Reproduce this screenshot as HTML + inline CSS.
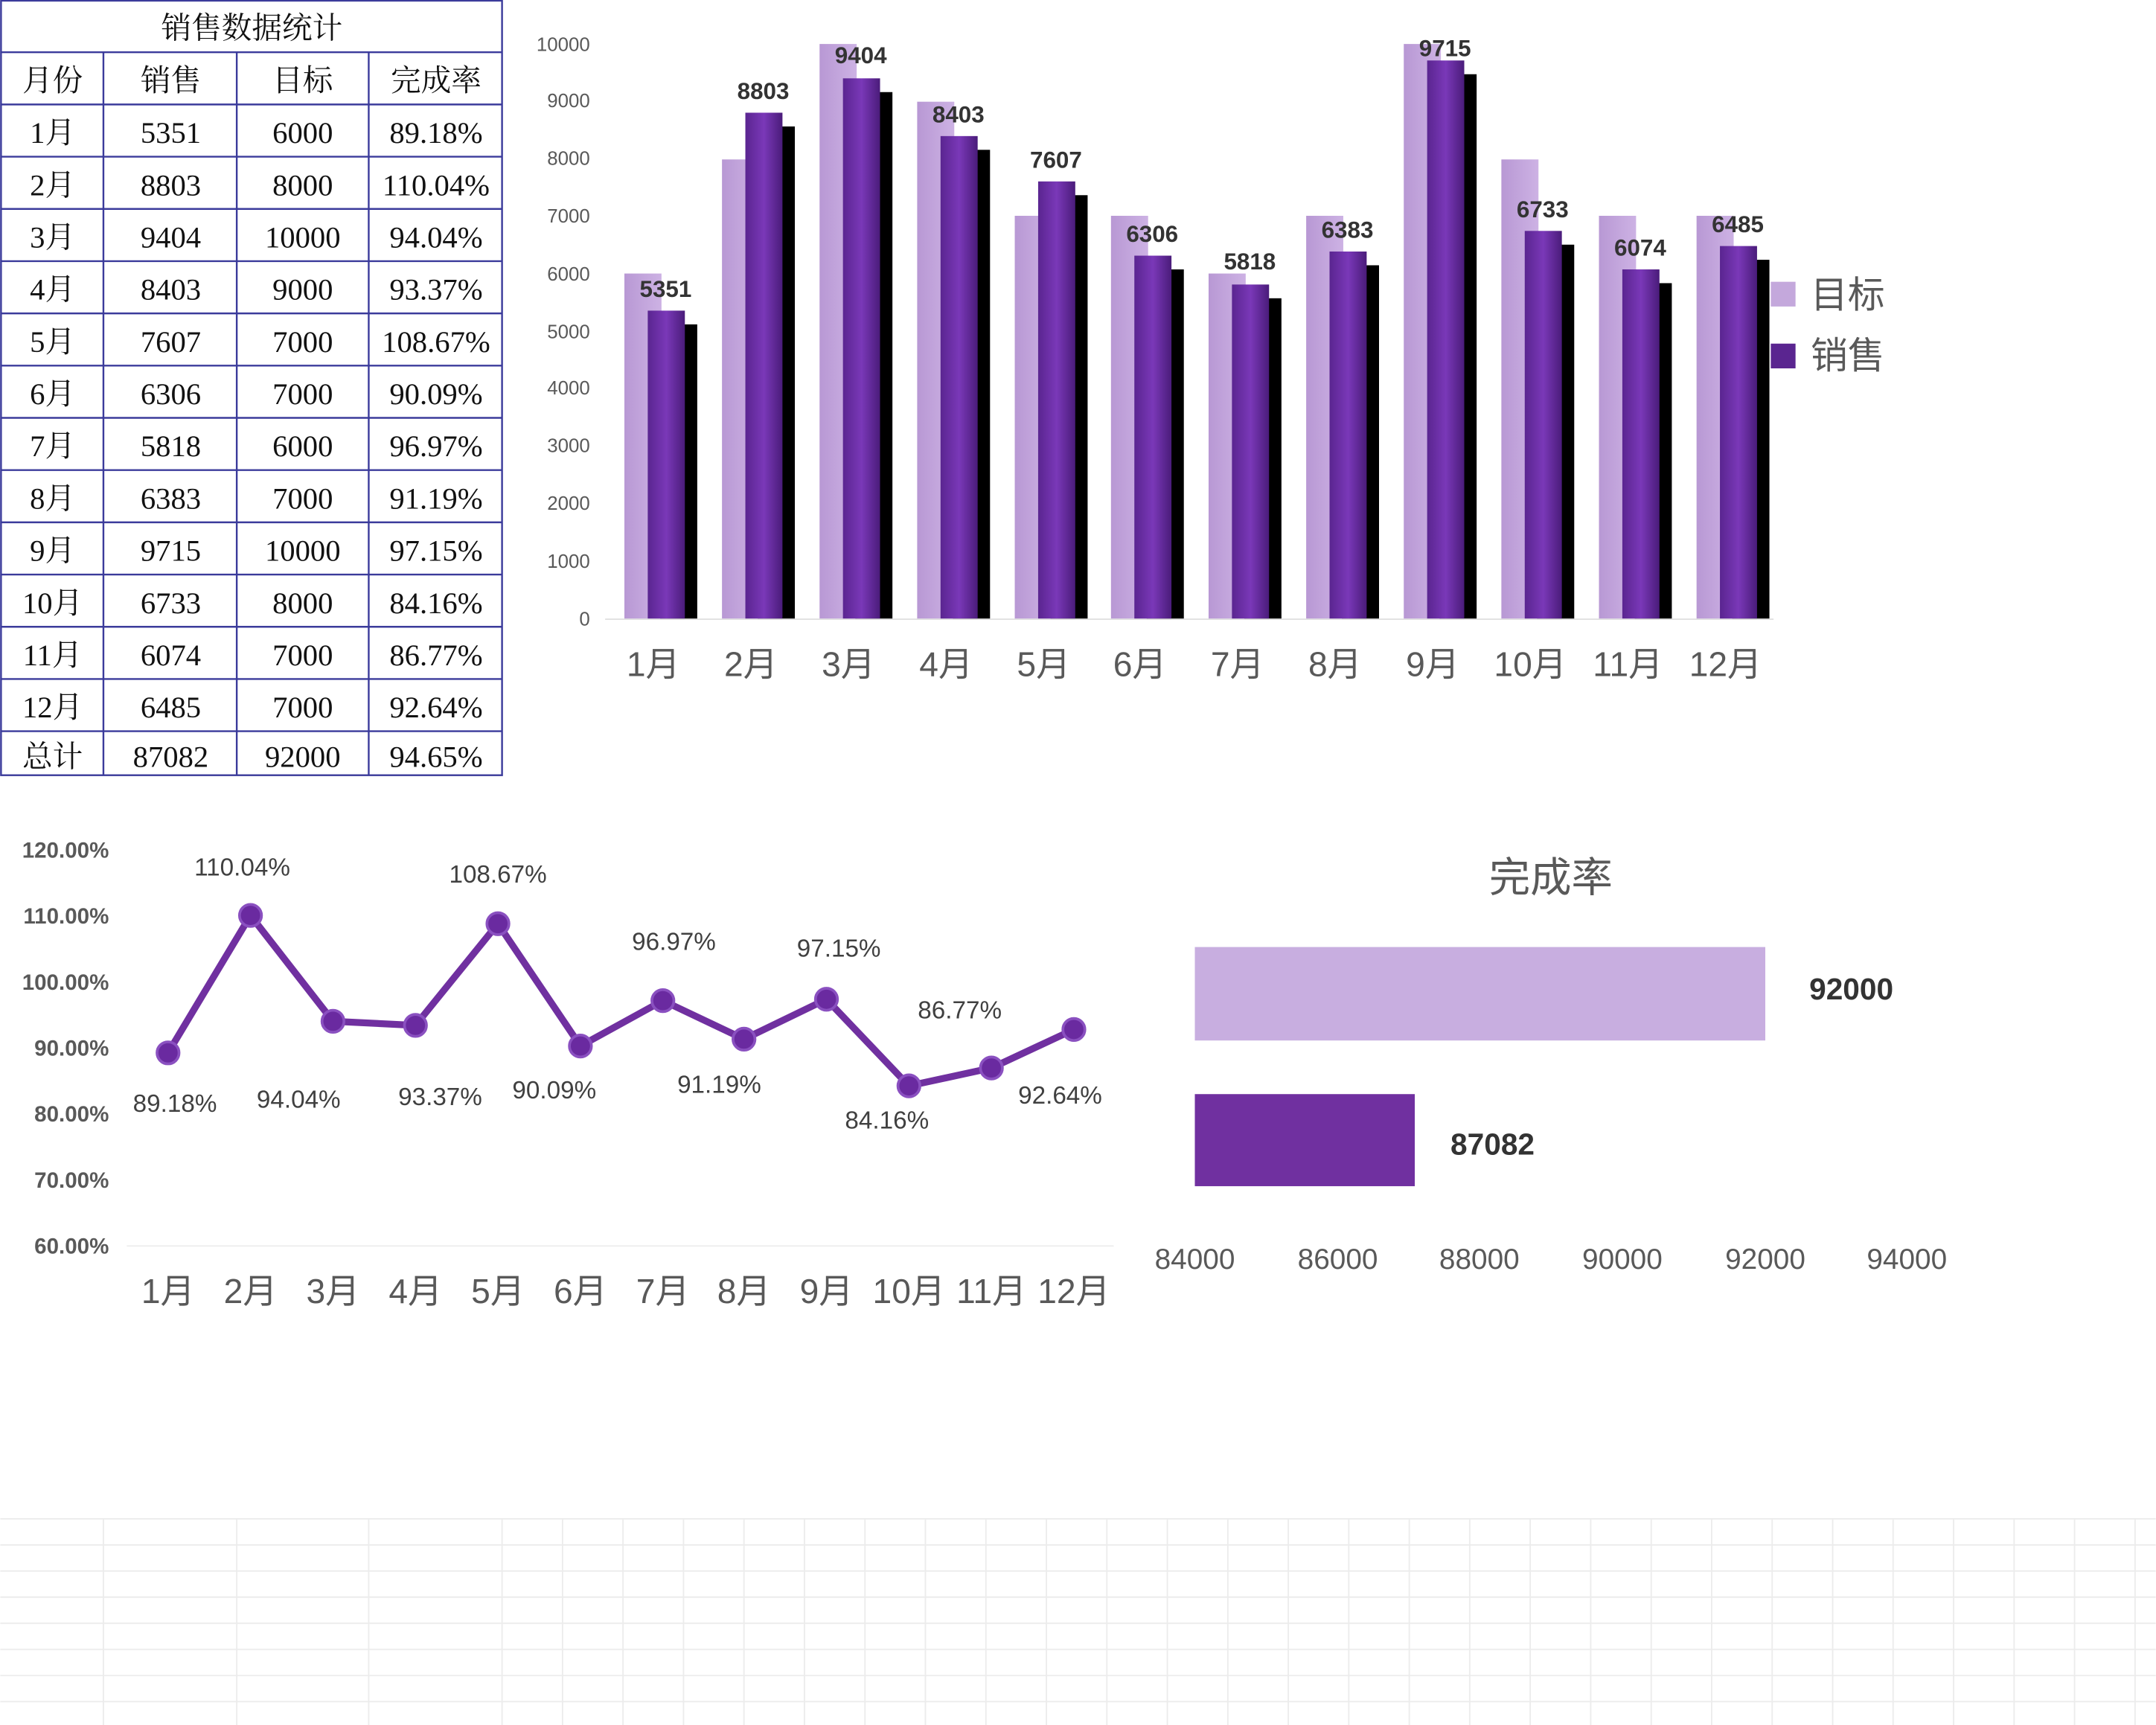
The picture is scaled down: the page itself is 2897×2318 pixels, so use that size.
<!DOCTYPE html>
<html><head><meta charset="utf-8"><style>html,body{margin:0;padding:0;background:#fff}svg{display:block}</style></head>
<body>
<svg width="2897" height="2318" viewBox="0 0 1568 1255" xmlns="http://www.w3.org/2000/svg" font-family="'Liberation Sans','Noto Sans CJK SC',sans-serif">
<defs>
<linearGradient id="sg" x1="0" x2="1" y1="0" y2="0"><stop offset="0" stop-color="#5a2590"/><stop offset="0.5" stop-color="#7a38b8"/><stop offset="1" stop-color="#4a1c7a"/></linearGradient>
<linearGradient id="tg" x1="0" x2="1"><stop offset="0" stop-color="#b898d4"/><stop offset="1" stop-color="#cdb2e4"/></linearGradient>
</defs>
<!-- faint grid bottom -->
<g stroke="#ececec" stroke-width="1">
<line x1="0" y1="1105" x2="1568" y2="1105"/><line x1="0" y1="1124" x2="1568" y2="1124"/><line x1="0" y1="1143" x2="1568" y2="1143"/><line x1="0" y1="1162" x2="1568" y2="1162"/><line x1="0" y1="1181" x2="1568" y2="1181"/><line x1="0" y1="1200" x2="1568" y2="1200"/><line x1="0" y1="1219" x2="1568" y2="1219"/><line x1="0" y1="1238" x2="1568" y2="1238"/>
<line x1="75" y1="1105" x2="75" y2="1255"/><line x1="172" y1="1105" x2="172" y2="1255"/><line x1="268" y1="1105" x2="268" y2="1255"/><line x1="365" y1="1105" x2="365" y2="1255"/>
<line x1="409" y1="1105" x2="409" y2="1255"/><line x1="453" y1="1105" x2="453" y2="1255"/><line x1="497" y1="1105" x2="497" y2="1255"/><line x1="541" y1="1105" x2="541" y2="1255"/><line x1="585" y1="1105" x2="585" y2="1255"/><line x1="629" y1="1105" x2="629" y2="1255"/><line x1="673" y1="1105" x2="673" y2="1255"/><line x1="717" y1="1105" x2="717" y2="1255"/><line x1="761" y1="1105" x2="761" y2="1255"/><line x1="805" y1="1105" x2="805" y2="1255"/><line x1="849" y1="1105" x2="849" y2="1255"/><line x1="893" y1="1105" x2="893" y2="1255"/><line x1="937" y1="1105" x2="937" y2="1255"/><line x1="981" y1="1105" x2="981" y2="1255"/><line x1="1025" y1="1105" x2="1025" y2="1255"/><line x1="1069" y1="1105" x2="1069" y2="1255"/><line x1="1113" y1="1105" x2="1113" y2="1255"/><line x1="1157" y1="1105" x2="1157" y2="1255"/><line x1="1201" y1="1105" x2="1201" y2="1255"/><line x1="1245" y1="1105" x2="1245" y2="1255"/><line x1="1289" y1="1105" x2="1289" y2="1255"/><line x1="1333" y1="1105" x2="1333" y2="1255"/><line x1="1377" y1="1105" x2="1377" y2="1255"/><line x1="1421" y1="1105" x2="1421" y2="1255"/><line x1="1465" y1="1105" x2="1465" y2="1255"/><line x1="1509" y1="1105" x2="1509" y2="1255"/><line x1="1553" y1="1105" x2="1553" y2="1255"/>
</g>
<!-- table -->
<g stroke="#3b3b9b" stroke-width="1.3" fill="none">
<rect x="0.5" y="0.5" width="364.5" height="563.5"/>
<line x1="0" y1="38" x2="365" y2="38"/>
<line x1="0" y1="76" x2="365" y2="76"/><line x1="0" y1="114" x2="365" y2="114"/><line x1="0" y1="152" x2="365" y2="152"/><line x1="0" y1="190" x2="365" y2="190"/><line x1="0" y1="228" x2="365" y2="228"/><line x1="0" y1="266" x2="365" y2="266"/><line x1="0" y1="304" x2="365" y2="304"/><line x1="0" y1="342" x2="365" y2="342"/><line x1="0" y1="380" x2="365" y2="380"/><line x1="0" y1="418" x2="365" y2="418"/><line x1="0" y1="456" x2="365" y2="456"/><line x1="0" y1="494" x2="365" y2="494"/><line x1="0" y1="532" x2="365" y2="532"/>
<line x1="75" y1="38" x2="75" y2="564"/><line x1="172" y1="38" x2="172" y2="564"/><line x1="268" y1="38" x2="268" y2="564"/>
</g>
<g font-family="'Liberation Serif','Noto Serif CJK SC',serif" font-size="22" fill="#111" text-anchor="middle">
<text x="183" y="28">销售数据统计</text>
<text x="38" y="66">月份</text><text x="124" y="66">销售</text><text x="220" y="66">目标</text><text x="317" y="66">完成率</text>
<text x="38" y="104">1月</text><text x="124" y="104">5351</text><text x="220" y="104">6000</text><text x="317" y="104">89.18%</text>
<text x="38" y="142">2月</text><text x="124" y="142">8803</text><text x="220" y="142">8000</text><text x="317" y="142">110.04%</text>
<text x="38" y="180">3月</text><text x="124" y="180">9404</text><text x="220" y="180">10000</text><text x="317" y="180">94.04%</text>
<text x="38" y="218">4月</text><text x="124" y="218">8403</text><text x="220" y="218">9000</text><text x="317" y="218">93.37%</text>
<text x="38" y="256">5月</text><text x="124" y="256">7607</text><text x="220" y="256">7000</text><text x="317" y="256">108.67%</text>
<text x="38" y="294">6月</text><text x="124" y="294">6306</text><text x="220" y="294">7000</text><text x="317" y="294">90.09%</text>
<text x="38" y="332">7月</text><text x="124" y="332">5818</text><text x="220" y="332">6000</text><text x="317" y="332">96.97%</text>
<text x="38" y="370">8月</text><text x="124" y="370">6383</text><text x="220" y="370">7000</text><text x="317" y="370">91.19%</text>
<text x="38" y="408">9月</text><text x="124" y="408">9715</text><text x="220" y="408">10000</text><text x="317" y="408">97.15%</text>
<text x="38" y="446">10月</text><text x="124" y="446">6733</text><text x="220" y="446">8000</text><text x="317" y="446">84.16%</text>
<text x="38" y="484">11月</text><text x="124" y="484">6074</text><text x="220" y="484">7000</text><text x="317" y="484">86.77%</text>
<text x="38" y="522">12月</text><text x="124" y="522">6485</text><text x="220" y="522">7000</text><text x="317" y="522">92.64%</text>
<text x="38" y="558">总计</text><text x="124" y="558">87082</text><text x="220" y="558">92000</text><text x="317" y="558">94.65%</text>
</g>
<!-- bar chart -->
<g font-size="14" fill="#595959" text-anchor="end">
<text x="429" y="455">0</text><text x="429" y="413">1000</text><text x="429" y="371">2000</text><text x="429" y="329">3000</text><text x="429" y="287">4000</text><text x="429" y="246">5000</text><text x="429" y="204">6000</text><text x="429" y="162">7000</text><text x="429" y="120">8000</text><text x="429" y="78">9000</text><text x="429" y="37">10000</text>
</g>
<line x1="440" y1="450.5" x2="1290" y2="450.5" stroke="#e0e0e0"/>
<g id="bars">
<!-- per category: c center; target top; sales top -->
<rect x="454" y="199" width="27" height="251" fill="url(#tg)"/><rect x="480" y="236" width="27" height="214" fill="#000"/><rect x="471" y="226" width="27" height="224" fill="url(#sg)"/>
<rect x="525" y="116" width="27" height="334" fill="url(#tg)"/><rect x="551" y="92" width="27" height="358" fill="#000"/><rect x="542" y="82" width="27" height="368" fill="url(#sg)"/>
<rect x="596" y="32" width="27" height="418" fill="url(#tg)"/><rect x="622" y="67" width="27" height="383" fill="#000"/><rect x="613" y="57" width="27" height="393" fill="url(#sg)"/>
<rect x="667" y="74" width="27" height="376" fill="url(#tg)"/><rect x="693" y="109" width="27" height="341" fill="#000"/><rect x="684" y="99" width="27" height="351" fill="url(#sg)"/>
<rect x="738" y="157" width="27" height="293" fill="url(#tg)"/><rect x="764" y="142" width="27" height="308" fill="#000"/><rect x="755" y="132" width="27" height="318" fill="url(#sg)"/>
<rect x="808" y="157" width="27" height="293" fill="url(#tg)"/><rect x="834" y="196" width="27" height="254" fill="#000"/><rect x="825" y="186" width="27" height="264" fill="url(#sg)"/>
<rect x="879" y="199" width="27" height="251" fill="url(#tg)"/><rect x="905" y="217" width="27" height="233" fill="#000"/><rect x="896" y="207" width="27" height="243" fill="url(#sg)"/>
<rect x="950" y="157" width="27" height="293" fill="url(#tg)"/><rect x="976" y="193" width="27" height="257" fill="#000"/><rect x="967" y="183" width="27" height="267" fill="url(#sg)"/>
<rect x="1021" y="32" width="27" height="418" fill="url(#tg)"/><rect x="1047" y="54" width="27" height="396" fill="#000"/><rect x="1038" y="44" width="27" height="406" fill="url(#sg)"/>
<rect x="1092" y="116" width="27" height="334" fill="url(#tg)"/><rect x="1118" y="178" width="27" height="272" fill="#000"/><rect x="1109" y="168" width="27" height="282" fill="url(#sg)"/>
<rect x="1163" y="157" width="27" height="293" fill="url(#tg)"/><rect x="1189" y="206" width="27" height="244" fill="#000"/><rect x="1180" y="196" width="27" height="254" fill="url(#sg)"/>
<rect x="1234" y="157" width="27" height="293" fill="url(#tg)"/><rect x="1260" y="189" width="27" height="261" fill="#000"/><rect x="1251" y="179" width="27" height="271" fill="url(#sg)"/>
</g>
<g font-size="17" font-weight="bold" fill="#333" text-anchor="middle">
<text x="484" y="216">5351</text><text x="555" y="72">8803</text><text x="626" y="46">9404</text><text x="697" y="89">8403</text><text x="768" y="122">7607</text><text x="838" y="176">6306</text><text x="909" y="196">5818</text><text x="980" y="173">6383</text><text x="1051" y="41">9715</text><text x="1122" y="158">6733</text><text x="1193" y="186">6074</text><text x="1264" y="169">6485</text>
</g>
<g font-size="25" fill="#595959" text-anchor="middle">
<text x="475" y="492">1月</text><text x="546" y="492">2月</text><text x="617" y="492">3月</text><text x="688" y="492">4月</text><text x="759" y="492">5月</text><text x="829" y="492">6月</text><text x="900" y="492">7月</text><text x="971" y="492">8月</text><text x="1042" y="492">9月</text><text x="1113" y="492">10月</text><text x="1184" y="492">11月</text><text x="1255" y="492">12月</text>
</g>
<rect x="1288" y="205" width="18" height="18" fill="#c4a8dc"/><text x="1317" y="224" font-size="27" fill="#595959">目标</text>
<rect x="1288" y="250" width="18" height="18" fill="#5a2590"/><text x="1317" y="268" font-size="27" fill="#595959">销售</text>
<!-- line chart -->
<g font-size="16" font-weight="bold" fill="#595959" text-anchor="end">
<text x="79" y="624">120.00%</text><text x="79" y="672">110.00%</text><text x="79" y="720">100.00%</text><text x="79" y="768">90.00%</text><text x="79" y="816">80.00%</text><text x="79" y="864">70.00%</text><text x="79" y="912">60.00%</text>
</g>
<line x1="92" y1="906.5" x2="810" y2="906.5" stroke="#eee"/>
<polyline fill="none" stroke="#7030a0" stroke-width="5" stroke-linejoin="round" points="122,766 182,666 242,743 302,746 362,672 422,761 482,728 541,756 601,727 661,790 721,777 781,749"/>
<g fill="#6a2aa0" stroke="#8a50c0" stroke-width="2">
<circle cx="122" cy="766" r="8"/><circle cx="182" cy="666" r="8"/><circle cx="242" cy="743" r="8"/><circle cx="302" cy="746" r="8"/><circle cx="362" cy="672" r="8"/><circle cx="422" cy="761" r="8"/><circle cx="482" cy="728" r="8"/><circle cx="541" cy="756" r="8"/><circle cx="601" cy="727" r="8"/><circle cx="661" cy="790" r="8"/><circle cx="721" cy="777" r="8"/><circle cx="781" cy="749" r="8"/>
</g>
<g font-size="18" fill="#404040" text-anchor="middle">
<text x="127" y="809">89.18%</text><text x="176" y="637">110.04%</text><text x="217" y="806">94.04%</text><text x="320" y="804">93.37%</text><text x="362" y="642">108.67%</text><text x="403" y="799">90.09%</text><text x="490" y="691">96.97%</text><text x="523" y="795">91.19%</text><text x="610" y="696">97.15%</text><text x="645" y="821">84.16%</text><text x="698" y="741">86.77%</text><text x="771" y="803">92.64%</text>
</g>
<g font-size="25" fill="#595959" text-anchor="middle">
<text x="122" y="948">1月</text><text x="182" y="948">2月</text><text x="242" y="948">3月</text><text x="302" y="948">4月</text><text x="362" y="948">5月</text><text x="422" y="948">6月</text><text x="482" y="948">7月</text><text x="541" y="948">8月</text><text x="601" y="948">9月</text><text x="661" y="948">10月</text><text x="721" y="948">11月</text><text x="781" y="948">12月</text>
</g>
<!-- horizontal bar -->
<text x="1128" y="649" font-size="30" fill="#595959" text-anchor="middle">完成率</text>
<rect x="869" y="689" width="415" height="68" fill="#c8aee0"/>
<rect x="869" y="796" width="160" height="67" fill="#7030a0"/>
<text x="1316" y="727" font-size="22" font-weight="bold" fill="#333">92000</text>
<text x="1055" y="840" font-size="22" font-weight="bold" fill="#333">87082</text>
<g font-size="21" fill="#595959" text-anchor="middle">
<text x="869" y="923">84000</text><text x="973" y="923">86000</text><text x="1076" y="923">88000</text><text x="1180" y="923">90000</text><text x="1284" y="923">92000</text><text x="1387" y="923">94000</text>
</g>
</svg>
</body></html>
